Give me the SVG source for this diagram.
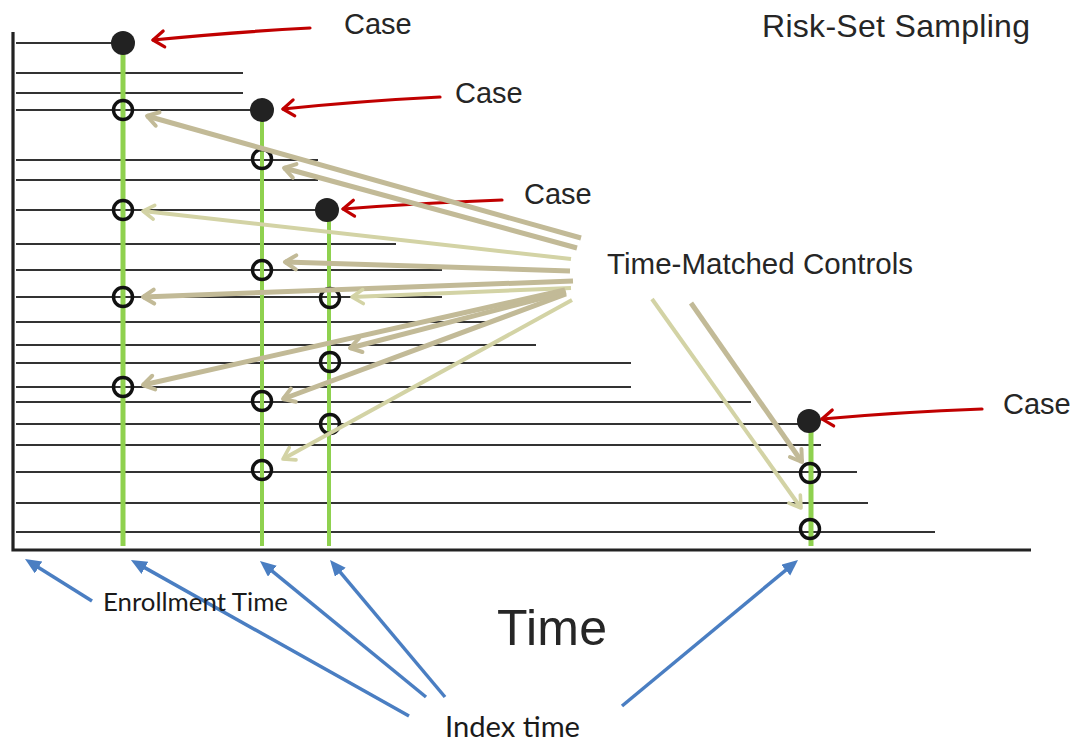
<svg xmlns="http://www.w3.org/2000/svg" width="1078" height="742" viewBox="0 0 1078 742">
<style>
  .subj { stroke: #333; stroke-width: 2.2; fill: none; }
  .axis { stroke: #222; stroke-width: 3.2; fill: none; }
  .idx { stroke: #8fd14f; fill: none; }
  .case { fill: #222; }
  .ctrl { fill: none; stroke: #111; stroke-width: 3.4; }
  .red { stroke: #c00000; stroke-width: 3.2; fill: none; stroke-linecap: round; marker-end: url(#redHead); }
  .tan { stroke: #c2ba97; stroke-width: 5; fill: none; marker-end: url(#tanHead); }
  .tanL { stroke: #d3d3a5; stroke-width: 4; fill: none; marker-end: url(#tanLHead); }
  .blue { stroke: #4a7ec2; stroke-width: 3.5; fill: none; marker-end: url(#blueHead); }
  .lbl { font-family: "Liberation Sans", Arial, sans-serif; fill: #262626; }
  .lbl2 { font-family: Lato, "Open Sans", "Liberation Sans", sans-serif; fill: #1a1a1a; }
</style>
<defs>
  <marker id="redHead" markerUnits="userSpaceOnUse" markerWidth="24" markerHeight="24" refX="15" refY="12" orient="auto">
    <path d="M4,4 L15,12 L4,20" fill="none" stroke="#c00000" stroke-width="3.2" stroke-linejoin="round" stroke-linecap="round"/>
  </marker>
  <marker id="tanHead" markerUnits="userSpaceOnUse" markerWidth="24" markerHeight="24" refX="16" refY="12" orient="auto">
    <path d="M5,5 L16,12 L5,19" fill="none" stroke="#c2ba97" stroke-width="4" stroke-linejoin="round" stroke-linecap="round"/>
  </marker>
  <marker id="tanLHead" markerUnits="userSpaceOnUse" markerWidth="24" markerHeight="24" refX="16" refY="12" orient="auto">
    <path d="M5,5 L16,12 L5,19" fill="none" stroke="#d3d3a5" stroke-width="3.6" stroke-linejoin="round" stroke-linecap="round"/>
  </marker>
  <marker id="blueHead" markerUnits="userSpaceOnUse" markerWidth="20" markerHeight="16" refX="10" refY="7" orient="auto">
    <path d="M0,0 L16,7 L0,14 z" fill="#4a7ec2"/>
  </marker>
</defs>

<g id="subject-lines">
  <line class="subj" x1="16" y1="43" x2="122" y2="43"/>
  <line class="subj" x1="16" y1="73" x2="243" y2="73"/>
  <line class="subj" x1="16" y1="93" x2="243" y2="93"/>
  <line class="subj" x1="16" y1="110" x2="262" y2="110"/>
  <line class="subj" x1="16" y1="160" x2="318" y2="160"/>
  <line class="subj" x1="16" y1="180" x2="318" y2="180"/>
  <line class="subj" x1="16" y1="210" x2="327" y2="210"/>
  <line class="subj" x1="16" y1="244" x2="396" y2="244"/>
  <line class="subj" x1="16" y1="270" x2="442" y2="270"/>
  <line class="subj" x1="16" y1="297" x2="442" y2="297"/>
  <line class="subj" x1="16" y1="322" x2="488" y2="322"/>
  <line class="subj" x1="16" y1="345" x2="536" y2="345"/>
  <line class="subj" x1="16" y1="363" x2="631" y2="363"/>
  <line class="subj" x1="16" y1="387" x2="631" y2="387"/>
  <line class="subj" x1="16" y1="402" x2="751" y2="402"/>
  <line class="subj" x1="16" y1="424" x2="810" y2="424"/>
  <line class="subj" x1="16" y1="445" x2="821" y2="445"/>
  <line class="subj" x1="16" y1="472" x2="857" y2="472"/>
  <line class="subj" x1="16" y1="503" x2="868" y2="503"/>
  <line class="subj" x1="16" y1="532" x2="935" y2="532"/>
</g>

<g id="axes">
  <polyline class="axis" points="13,32 13,550 1031,550"/>
</g>

<g id="index-lines">
  <line class="idx" x1="123" y1="43" x2="123" y2="546" stroke-width="5"/>
  <line class="idx" x1="262" y1="110" x2="262" y2="546" stroke-width="4"/>
  <line class="idx" x1="329" y1="210" x2="329" y2="546" stroke-width="4"/>
  <line class="idx" x1="811" y1="421" x2="811" y2="546" stroke-width="5"/>
</g>

<g id="case-1"><circle class="case" cx="123" cy="43" r="12"/></g>
<g id="case-2"><circle class="case" cx="262" cy="110" r="12"/></g>
<g id="case-3"><circle class="case" cx="327" cy="210" r="12"/></g>
<g id="case-4"><circle class="case" cx="809" cy="421" r="12"/></g>

<g id="controls">
  <circle class="ctrl" cx="123" cy="110" r="9.5"/>
  <circle class="ctrl" cx="123" cy="210" r="9.5"/>
  <circle class="ctrl" cx="123" cy="297" r="9.5"/>
  <circle class="ctrl" cx="123" cy="387" r="9.5"/>
  <circle class="ctrl" cx="262" cy="159" r="9.5"/>
  <circle class="ctrl" cx="262" cy="270" r="9.5"/>
  <circle class="ctrl" cx="262" cy="401" r="9.5"/>
  <circle class="ctrl" cx="262" cy="470" r="9.5"/>
  <circle class="ctrl" cx="330" cy="298" r="9.5"/>
  <circle class="ctrl" cx="330" cy="362" r="9.5"/>
  <circle class="ctrl" cx="330" cy="424" r="9.5"/>
  <circle class="ctrl" cx="810" cy="473" r="9.5"/>
  <circle class="ctrl" cx="810" cy="529" r="9.5"/>
</g>

<g id="connectors">
  <path class="red" d="M310,28 Q235,32 153,40"/>
  <path class="red" d="M440,97 Q360,101 283,109"/>
  <path class="red" d="M502,200 Q420,203 343,209"/>
  <path class="red" d="M982,409 Q900,412 822,419"/>

  <line class="tan" x1="581" y1="238" x2="147" y2="116"/>
  <line class="tan" x1="577" y1="248" x2="284" y2="168"/>
  <line class="tanL" x1="571" y1="259" x2="143" y2="211"/>
  <line class="tan" x1="570" y1="271" x2="285" y2="262"/>
  <line class="tan" x1="573" y1="281" x2="143" y2="297"/>
  <line class="tanL" x1="571" y1="288" x2="352" y2="297"/>
  <line class="tan" x1="565" y1="290" x2="143" y2="385"/>
  <line class="tan" x1="566" y1="292" x2="350" y2="348"/>
  <line class="tan" x1="566" y1="294" x2="283" y2="399"/>
  <line class="tanL" x1="572" y1="300" x2="283" y2="459"/>
  <line class="tan" x1="691" y1="303" x2="802" y2="462"/>
  <line class="tanL" x1="652" y1="299" x2="801" y2="508"/>

  <line class="blue" x1="92" y1="601" x2="30.1" y2="562.2"/>
  <line class="blue" x1="409" y1="716" x2="136.2" y2="562.9"/>
  <line class="blue" x1="426" y1="697" x2="264.6" y2="564.8"/>
  <line class="blue" x1="445" y1="697" x2="333.9" y2="564.6"/>
  <line class="blue" x1="622" y1="706" x2="793.4" y2="563.8"/>
</g>

<g id="labels">
  <text class="lbl" x="344" y="34" font-size="29">Case</text>
  <text class="lbl" x="455" y="103" font-size="29">Case</text>
  <text class="lbl" x="524" y="204" font-size="29">Case</text>
  <text class="lbl" x="1003" y="414" font-size="29">Case</text>
  <text class="lbl" x="762" y="37" font-size="32" textLength="268">Risk-Set Sampling</text>
  <text class="lbl" x="607" y="274" font-size="29.5" textLength="306">Time-Matched Controls</text>
  <text class="lbl" x="497" y="645" font-size="50" textLength="110">Time</text>
  <text class="lbl2" x="103" y="611" font-size="24.5" textLength="185" lengthAdjust="spacingAndGlyphs">Enrollment Time</text>
  <text class="lbl2" x="445" y="737" font-size="28.5" textLength="135" lengthAdjust="spacingAndGlyphs">Index time</text>
</g>
</svg>
